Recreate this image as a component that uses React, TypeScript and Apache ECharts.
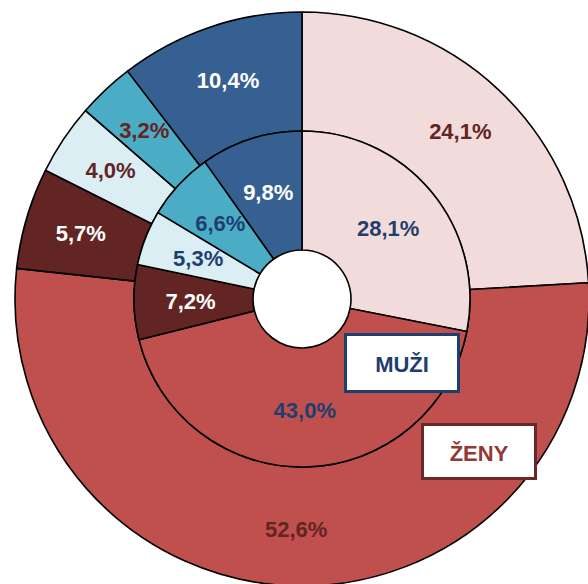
import React, { useEffect, useRef } from "react";
import * as echarts from "echarts";

// Outer ring: ŽENY (women), clockwise from 12 o'clock
const zenyValues = [24.1, 52.6, 5.7, 4.0, 3.2, 10.4];
// Inner ring: MUŽI (men), clockwise from 12 o'clock
const muziValues = [28.1, 43.0, 7.2, 5.3, 6.6, 9.8];
const categories = ["A", "B", "C", "D", "E", "F"];
const sliceColors = ["#F2DCDB", "#C0504D", "#632523", "#DBEEF4", "#4BACC6", "#376092"];
const zenyLabelColors = ["#632523", "#632523", "#FFFFFF", "#632523", "#632523", "#FFFFFF"];
const muziLabelColors = ["#1F3E6E", "#1F3E6E", "#FFFFFF", "#1F3E6E", "#1F3E6E", "#FFFFFF"];
const legendTexts = ["MUŽI", "ŽENY"];

const FONT = "'Liberation Sans', Arial, sans-serif";

const fmt = (v: number) => `${v.toFixed(1).replace(".", ",")}%`;

function buildData(values: number[], labelColors: string[]) {
  return values.map((v, i) => ({
    name: categories[i],
    value: v,
    itemStyle: { color: sliceColors[i] },
    label: { color: labelColors[i] },
  }));
}

export default function App() {
  const ref = useRef<HTMLDivElement>(null);
  useEffect(() => {
    if (!ref.current) return;
    const chart = echarts.init(ref.current, undefined, { renderer: "svg" });
    const commonSeries = {
      type: "pie" as const,
      center: [302, 299],
      startAngle: 90,
      clockwise: true,
      silent: true,
      avoidLabelOverlap: false,
      itemStyle: { borderColor: "#000000", borderWidth: 1.6 },
      label: {
        show: true,
        position: "inside" as const,
        fontFamily: FONT,
        fontWeight: "bold" as const,
        fontSize: 22,
        formatter: (p: any) => fmt(p.value),
      },
      labelLine: { show: false },
      emphasis: { disabled: true },
    };
    chart.setOption({
      animation: false,
      backgroundColor: "#FFFFFF",
      series: [
        {
          ...commonSeries,
          name: legendTexts[1],
          radius: [168, 287],
          data: buildData(zenyValues, zenyLabelColors),
        },
        {
          ...commonSeries,
          name: legendTexts[0],
          radius: [49, 168],
          data: buildData(muziValues, muziLabelColors),
        },
      ],
      graphic: [
        {
          type: "rect",
          zlevel: 1,
          z: 100,
          shape: { x: 345.5, y: 334.5, width: 113, height: 57 },
          style: { fill: "#FFFFFF", stroke: "#1F3E6E", lineWidth: 3 },
        },
        {
          type: "text",
          zlevel: 1,
          z: 101,
          x: 402,
          y: 364,
          style: {
            text: legendTexts[0],
            fill: "#1F3E6E",
            font: `bold 22px ${FONT}`,
            align: "center",
            verticalAlign: "middle",
          },
        },
        {
          type: "rect",
          zlevel: 1,
          z: 100,
          shape: { x: 422.5, y: 424.5, width: 113, height: 54 },
          style: { fill: "#FFFFFF", stroke: "#6B2828", lineWidth: 3 },
        },
        {
          type: "text",
          zlevel: 1,
          z: 101,
          x: 479,
          y: 453,
          style: {
            text: legendTexts[1],
            fill: "#953735",
            font: `bold 22px ${FONT}`,
            align: "center",
            verticalAlign: "middle",
          },
        },
      ],
    });
    return () => chart.dispose();
  }, []);
  return (
    <div
      ref={ref}
      style={{ position: "fixed", left: 0, top: 0, width: 588, height: 584 }}
    />
  );
}
